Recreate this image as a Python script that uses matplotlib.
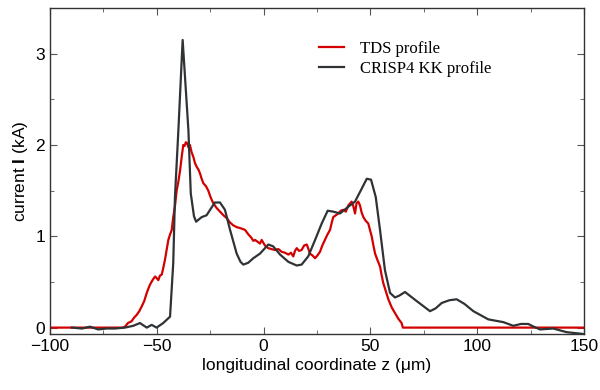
"""TDS vs CRISP4 KK current profile."""
import matplotlib
matplotlib.use('Agg')
import matplotlib.pyplot as plt
from matplotlib.ticker import MultipleLocator

# TDS profile (red) (jitter included as seen)
tds_z = [-100, -66, -64.9, -63.5, -61.8, -60.6, -59.4, -58.2, -57.1, -55.9,
         -54.7, -53.9, -53.2, -52.0, -50.8, -50.0, -49.3, -48.5, -47.7, -47.0,
         -46.2, -45.4, -44.6, -43.8, -43.0, -42.3, -41.5, -40.7, -39.9, -39.1,
         -38.4, -37.6, -37.0, -36.4, -35.8, -35.1, -34.5, -33.7, -32.9, -32.1,
         -31.3, -30.5, -29.8, -29.0, -28.2, -27.0, -25.9, -24.7, -23.5, -22.0,
         -20.4, -18.8, -17.3, -15.7, -14.2, -12.6, -11.0, -9.8, -8.7, -7.1,
         -5.6, -4.8, -4.0, -2.8, -1.7, -0.9, 0.6, 2.2, 3.7, 5.3, 6.9, 8.5,
         10.0, 11.6, 12.8, 13.9, 14.7, 15.5, 16.6, 17.8, 19.0, 20.2, 21.0, 21.7,
         22.9, 24.1, 25.2, 26.4, 27.5, 28.7, 29.9, 31.1, 31.8, 32.6, 33.8, 35.0,
         36.1, 37.3, 38.5, 39.7, 40.5, 41.2, 42.0, 42.8, 43.5, 44.3, 45.1, 45.9,
         46.7, 47.8, 49.0, 49.8, 50.6, 51.4, 52.2, 53.3, 54.5, 55.2, 56.0, 57.2,
         58.4, 60.0, 61.5, 63.0, 64.6, 65.2, 150]
tds_i = [0, 0, 0.01, 0.05, 0.07, 0.11, 0.14, 0.18, 0.23, 0.29,
         0.38, 0.43, 0.47, 0.52, 0.56, 0.54, 0.52, 0.57, 0.58, 0.65,
         0.74, 0.85, 0.96, 1.02, 1.07, 1.21, 1.33, 1.50, 1.60, 1.72,
         1.86, 2.00, 1.99, 2.03, 2.02, 1.97, 2.00, 1.92, 1.87, 1.80,
         1.76, 1.73, 1.69, 1.63, 1.58, 1.55, 1.50, 1.42, 1.36, 1.31,
         1.27, 1.23, 1.20, 1.15, 1.12, 1.10, 1.09, 1.08, 1.07, 1.02,
         0.98, 0.95, 0.96, 0.94, 0.92, 0.96, 0.90, 0.87, 0.86, 0.85, 0.86, 0.83,
         0.82, 0.80, 0.82, 0.78, 0.84, 0.87, 0.84, 0.85, 0.90, 0.91, 0.86, 0.81,
         0.79, 0.76, 0.79, 0.83, 0.90, 0.96, 1.02, 1.07, 1.14, 1.21, 1.23, 1.25,
         1.28, 1.29, 1.27, 1.34, 1.36, 1.38, 1.33, 1.25, 1.36, 1.38, 1.34, 1.26,
         1.21, 1.17, 1.14, 1.07, 1.00, 0.90, 0.81, 0.74, 0.67, 0.58, 0.49, 0.40,
         0.31, 0.22, 0.16, 0.10, 0.05, 0, 0]

# CRISP4 Kramers-Kronig reconstruction (dark grey)
kk_z = [-89.8, -85.0, -81.3, -77.4, -73.5, -69.6, -64.9, -61.0, -57.9, -54.7,
        -52.4, -50.1, -47.0, -43.8, -42.3, -41.5, -39.9, -37.9, -35.2, -34.1,
        -32.6, -31.6, -29.0, -26.7, -24.5, -22.8, -20.4, -18.1, -15.7, -12.6,
        -10.8, -9.5, -7.2, -4.8, -1.7, 2.2, 4.5, 7.7, 11.6, 15.5, 17.8, 20.9,
        24.1, 27.2, 30.0, 32.6, 35.8, 38.9, 42.8, 45.9, 48.3, 50.3, 52.5, 54.5,
        56.8, 59.2, 61.5, 63.5, 66.2, 71.7, 77.9, 80.5, 83.4, 87.0, 90.4, 94.0,
        98.2, 105.2, 112.2, 116.9, 120.5, 123.9, 126.5, 129.4, 135.6, 141.9,
        149.7]
kk_i = [0, -0.01, 0.01, -0.02, -0.01, -0.01, 0, 0.02, 0.05, 0,
        0.03, 0, 0.05, 0.12, 0.71, 1.43, 2.16, 3.15, 2.16, 1.47,
        1.22, 1.16, 1.21, 1.23, 1.31, 1.37, 1.37, 1.29, 1.07, 0.81,
        0.72, 0.69, 0.71, 0.76, 0.81, 0.91, 0.89, 0.80, 0.72, 0.68, 0.69, 0.78,
        0.96, 1.14, 1.28, 1.27, 1.25, 1.31, 1.38, 1.52, 1.63, 1.62, 1.43, 1.07,
        0.63, 0.38, 0.33, 0.35, 0.39, 0.29, 0.18, 0.21, 0.27, 0.30, 0.31, 0.26,
        0.18, 0.09, 0.06, 0.02, 0.04, 0.04, 0.01, -0.02, -0.01, -0.05,
        -0.07]

plt.rcParams['font.family'] = 'Liberation Sans'
plt.rcParams['mathtext.fontset'] = 'custom'
plt.rcParams['mathtext.rm'] = 'Liberation Sans'
plt.rcParams['mathtext.bf'] = 'Liberation Sans:bold'

fig = plt.figure(figsize=(6, 3.9), dpi=100)
ax = fig.add_axes([50 / 600, 56 / 390, 534 / 600, 326 / 390])

ax.plot(tds_z, tds_i, color='#d40000', lw=1.6, label='TDS profile')
ax.plot(kk_z, kk_i, color='#2f3335', lw=1.6, label='CRISP4 KK profile')

ax.set_xlim(-100, 150)
ax.set_ylim(-0.07, 3.5)
ax.xaxis.set_major_locator(MultipleLocator(50))
ax.xaxis.set_minor_locator(MultipleLocator(25))
ax.yaxis.set_major_locator(MultipleLocator(1))
ax.yaxis.set_minor_locator(MultipleLocator(0.5))
ax.tick_params(which='both', direction='in', top=True, right=True,
               color='#555555', labelsize=12.5)
ax.tick_params(which='major', length=5)
ax.tick_params(which='minor', length=3)
for s in ax.spines.values():
    s.set_color('#333333')
    s.set_linewidth(1.0)

ax.set_xlabel('longitudinal coordinate z (μm)', fontsize=12.5, labelpad=3)
ax.set_ylabel(r'current $\mathbf{I}$ (kA)', fontsize=12.5, labelpad=4)

ax.legend(loc='upper left', bbox_to_anchor=(0.475, 0.945), frameon=False,
          prop={'family': 'Liberation Serif', 'size': 12},
          handlelength=1.5, handletextpad=1.0, labelspacing=0.25)

fig.savefig('out.png', dpi=100)
